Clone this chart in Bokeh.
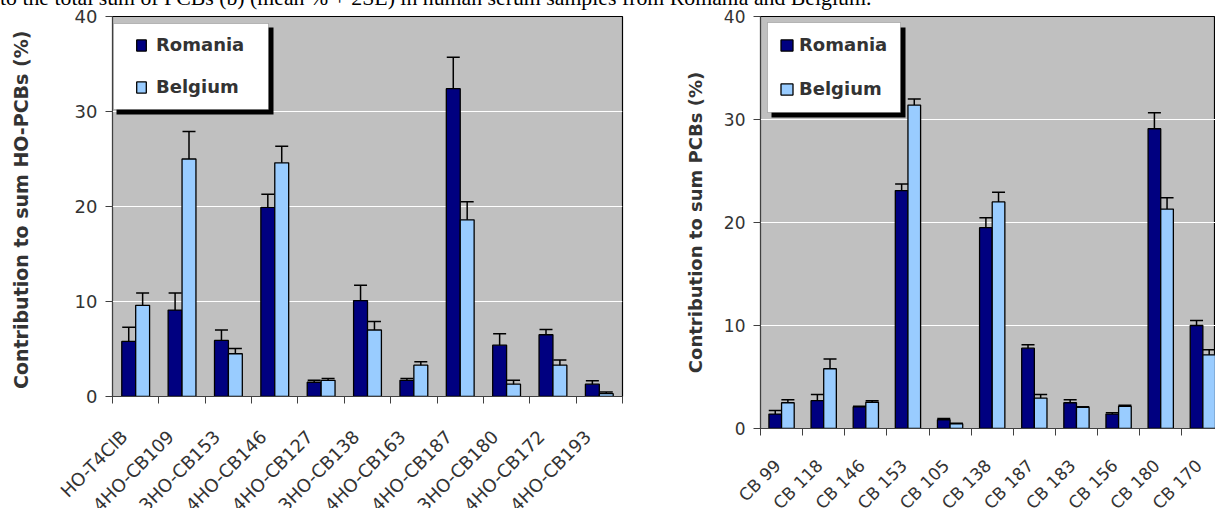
from bokeh.plotting import figure
from bokeh.models import (ColumnDataSource, FixedTicker, Legend, LegendItem, BoxAnnotation,
                          Whisker, TeeHead, Range1d, Div, CustomJSTickFormatter)
from bokeh.layouts import row, column
from bokeh.embed import file_html
from bokeh.resources import INLINE

try:
    from bokeh.models import GlobalInlineStyleSheet
except Exception:  # pragma: no cover
    GlobalInlineStyleSheet = None

# ---------------- data ----------------
ho_categories = ["HO-T4ClB", "4HO-CB109", "3HO-CB153", "4HO-CB146", "4HO-CB127", "3HO-CB138",
                 "4HO-CB163", "4HO-CB187", "3HO-CB180", "4HO-CB172", "4HO-CB193"]
ho_romania = [5.8, 9.1, 5.9, 19.9, 1.5, 10.1, 1.7, 32.4, 5.4, 6.5, 1.3]
ho_romania_err = [1.5, 1.8, 1.1, 1.4, 0.2, 1.6, 0.2, 3.3, 1.2, 0.55, 0.35]
ho_belgium = [9.6, 25.0, 4.5, 24.6, 1.7, 7.0, 3.3, 18.6, 1.3, 3.3, 0.3]
ho_belgium_err = [1.3, 2.9, 0.55, 1.75, 0.2, 0.9, 0.35, 1.9, 0.4, 0.55, 0.18]

pcb_categories = ["CB 99", "CB 118", "CB 146", "CB 153", "CB 105", "CB 138", "CB 187",
                  "CB 183", "CB 156", "CB 180", "CB 170"]
pcb_romania = [1.4, 2.7, 2.1, 23.1, 0.85, 19.5, 7.8, 2.5, 1.4, 29.1, 10.0]
pcb_romania_err = [0.35, 0.6, 0.05, 0.65, 0.13, 0.95, 0.32, 0.29, 0.12, 1.55, 0.49]
pcb_belgium = [2.5, 5.8, 2.55, 31.4, 0.45, 22.0, 2.95, 2.05, 2.15, 21.3, 7.15]
pcb_belgium_err = [0.3, 0.95, 0.15, 0.6, 0.07, 0.93, 0.35, 0.05, 0.1, 1.1, 0.5]

y_ticks = [0, 10, 20, 30, 40]
series_names = ["Romania", "Belgium"]
caption_text = "to the total sum of PCBs (b) (mean % + 2SE) in human serum samples from Romania and Belgium."

# ---------------- style ----------------
FONT = "DejaVu Sans"
TXT = "#333333"
NAVY = "#000080"
LIGHT = "#99CCFF"
PLOT_BG = "#C0C0C0"
AX = "#404040"
TOP = 16


def make_chart(categories, romania, romania_err, belgium, belgium_err, ylabel, *,
               frame_left, frame_right, frame_w, frame_h, x_end, label_shift,
               label_standoff_px, label_size, tick_size, ylabel_size, ylabel_standoff,
               box, shadow, legend_loc, legend_spacing, glyph_w, label_standoff):
    n = len(categories)
    centers = [i + 0.5 for i in range(n)]
    src = ColumnDataSource(dict(
        xr=[c - 0.15 for c in centers],
        xb=[c + 0.15 for c in centers],
        ro=romania,
        ro_hi=[v + e for v, e in zip(romania, romania_err)],
        be=belgium,
        be_hi=[v + e for v, e in zip(belgium, belgium_err)],
    ))
    p = figure(frame_width=frame_w, frame_height=frame_h,
               x_range=Range1d(0, x_end), y_range=Range1d(0, 40),
               output_backend="svg", toolbar_location=None,
               min_border_left=frame_left, min_border_top=TOP,
               min_border_right=frame_right, min_border_bottom=0)
    p.background_fill_color = PLOT_BG
    p.border_fill_alpha = 0
    p.outline_line_color = "black"
    p.outline_line_width = 1.2

    r_ro = p.vbar(x="xr", top="ro", width=0.3, source=src, fill_color=NAVY,
                  line_color="black", line_width=1.3)
    r_be = p.vbar(x="xb", top="be", width=0.3, source=src, fill_color=LIGHT,
                  line_color="black", line_width=1.3)

    for base, lo, hi in (("xr", "ro", "ro_hi"), ("xb", "be", "be_hi")):
        w = Whisker(base=base, lower=lo, upper=hi, source=src, dimension="height",
                    line_color="black", line_width=1.5, lower_head=None,
                    upper_head=TeeHead(size=13, line_color="black", line_width=1.5),
                    level="annotation")
        p.add_layout(w)

    # x axis: tick marks between categories, rotated names next to each category
    p.xaxis.ticker = FixedTicker(ticks=[c - label_shift for c in centers],
                                 minor_ticks=list(range(n + 1)))
    p.xaxis.formatter = CustomJSTickFormatter(args=dict(names=categories),
                                              code="return names[Math.floor(tick)] || '';")
    p.xaxis.major_label_orientation = 0.785398
    p.xaxis.major_tick_line_color = None
    p.xaxis.major_tick_out = 0
    p.xaxis.major_tick_in = 0
    p.xaxis.minor_tick_out = 7
    p.xaxis.minor_tick_in = 0
    p.xaxis.minor_tick_line_color = AX
    p.xaxis.axis_line_color = AX
    p.xaxis.major_label_standoff = label_standoff_px
    p.xaxis.major_label_text_font = FONT
    p.xaxis.major_label_text_font_size = label_size
    p.xaxis.major_label_text_color = TXT

    p.yaxis.ticker = FixedTicker(ticks=y_ticks)
    p.yaxis.major_tick_out = 7
    p.yaxis.major_tick_in = 0
    p.yaxis.minor_tick_line_color = None
    p.yaxis.axis_line_color = AX
    p.yaxis.major_tick_line_color = AX
    p.yaxis.major_label_standoff = 8
    p.yaxis.major_label_text_font = FONT
    p.yaxis.major_label_text_font_size = tick_size
    p.yaxis.major_label_text_color = TXT
    p.yaxis.axis_label = ylabel
    p.yaxis.axis_label_text_font = FONT
    p.yaxis.axis_label_text_font_style = "bold"
    p.yaxis.axis_label_text_font_size = ylabel_size
    p.yaxis.axis_label_text_color = TXT
    p.yaxis.axis_label_standoff = ylabel_standoff

    p.xgrid.grid_line_color = None
    p.ygrid.ticker = FixedTicker(ticks=y_ticks)
    p.ygrid.grid_line_color = "white"
    p.ygrid.grid_line_width = 1

    # legend box with shadow (canvas pixels)
    sl, st, sr, sb = shadow
    p.add_layout(BoxAnnotation(left=sl, right=sr, top=st, bottom=sb,
                               left_units="canvas", right_units="canvas",
                               top_units="canvas", bottom_units="canvas",
                               fill_color="black", fill_alpha=1, line_color=None,
                               level="annotation"))
    bl, bt, br, bb = box
    p.add_layout(BoxAnnotation(left=bl, right=br, top=bt, bottom=bb,
                               left_units="canvas", right_units="canvas",
                               top_units="canvas", bottom_units="canvas",
                               fill_color="white", fill_alpha=1, line_color="#505050",
                               line_width=1, level="annotation"))
    legend = Legend(items=[LegendItem(label=series_names[0], renderers=[r_ro]),
                           LegendItem(label=series_names[1], renderers=[r_be])],
                    location=legend_loc, padding=0, margin=0, spacing=legend_spacing,
                    glyph_width=glyph_w, glyph_height=14, label_height=21,
                    label_standoff=label_standoff,
                    label_text_font=FONT, label_text_font_style="bold",
                    label_text_font_size="18px", label_text_color=TXT,
                    border_line_color=None, background_fill_alpha=0)
    p.add_layout(legend)
    return p


p1 = make_chart(ho_categories, ho_romania, ho_romania_err, ho_belgium, ho_belgium_err,
                "Contribution to sum  HO-PCBs (%)",
                frame_left=112, frame_right=20, frame_w=510, frame_h=380, x_end=11,
                label_shift=0.25, label_standoff_px=30, label_size="18px",
                tick_size="18px", ylabel_size="19px", ylabel_standoff=40,
                box=(113, 23, 268, 109), shadow=(116, 27, 273, 114),
                legend_loc=(23, 299), legend_spacing=21, glyph_w=12, label_standoff=9)

p2 = make_chart(pcb_categories, pcb_romania, pcb_romania_err, pcb_belgium, pcb_belgium_err,
                "Contribution to sum PCBs (%)",
                frame_left=118, frame_right=0, frame_w=455, frame_h=412, x_end=10.8,
                label_shift=0.09375, label_standoff_px=27, label_size="17px",
                tick_size="17px", ylabel_size="18px", ylabel_standoff=15,
                box=(125, 22, 258, 112), shadow=(129, 27, 263, 117),
                legend_loc=(19, 329), legend_spacing=23, glyph_w=15, label_standoff=5)

caption = Div(
    text=("<div style=\"position:relative; top:-12px; left:0px; white-space:nowrap; "
          "font-family:'Liberation Serif'; font-size:21.8px; line-height:21.8px; color:#000;\">"
          + caption_text + "</div>"),
    width=1000, height=0, margin=0)
if GlobalInlineStyleSheet is not None:
    caption.stylesheets = [GlobalInlineStyleSheet(
        css="html, body { overflow: hidden !important; }")]

layout = column(caption, row(column(p1), column(p2), spacing=0), spacing=0)
open("out.html", "w").write(file_html(layout, INLINE))
